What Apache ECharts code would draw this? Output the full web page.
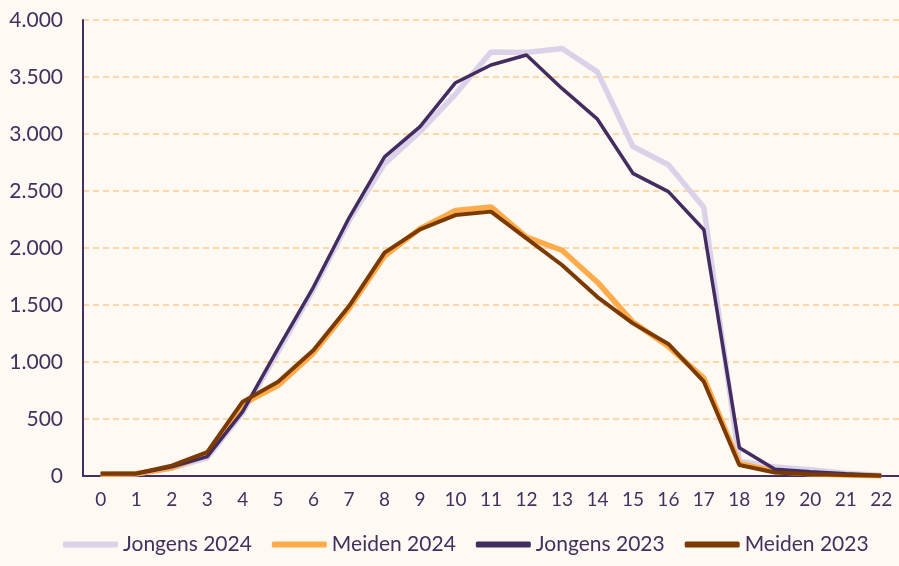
<!DOCTYPE html>
<html>
<head>
<meta charset="utf-8">
<script src="https://cdn.jsdelivr.net/npm/echarts@6/dist/echarts.min.js"></script>
<style>
  html, body { margin: 0; padding: 0; background: #fef9f3; }
  #containerg { width: 899px; height: 566px; }
</style>
</head>
<body>
<div id="containerg"></div>
<script>
var leeftijden = ['0', '1', '2', '3', '4', '5', '6', '7', '8', '9', '10', '11', '12', '13', '14', '15', '16', '17', '18', '19', '20', '21', '22'];

var jongens2024 = [15, 20, 70, 160, 555, 1090, 1640, 2240, 2740, 3020, 3350, 3720, 3715, 3750, 3545, 2890, 2730, 2355, 130, 80, 55, 25, 5];
var meiden2024 = [15, 20, 70, 190, 630, 795, 1080, 1470, 1930, 2170, 2330, 2360, 2095, 1980, 1700, 1350, 1135, 860, 110, 40, 20, 8, 3];
var jongens2023 = [20, 20, 80, 170, 565, 1120, 1660, 2265, 2800, 3065, 3450, 3605, 3693, 3400, 3130, 2655, 2495, 2160, 248, 60, 38, 20, 5];
var meiden2023 = [23, 23, 91, 210, 652, 827, 1105, 1491, 1959, 2164, 2289, 2319, 2085, 1851, 1570, 1339, 1158, 827, 96, 30, 15, 8, 3];

var tekstKleur = '#43305e';

$ = null;
grafiek();

function grafiek() {
    var dom = document.getElementById("containerg");
    var myChart = echarts.init(dom);

    function lijn(naam, data, kleur, breedte) {
        return {
            name: naam,
            type: 'line',
            data: data,
            showSymbol: false,
            symbol: 'none',
            animation: false,
            lineStyle: { color: kleur, width: breedte },
            itemStyle: { color: kleur }
        };
    }

    var option = {
        backgroundColor: '#fef9f3',
        textStyle: { fontFamily: 'Lato', color: tekstKleur },
        grid: { left: 83, right: 0, top: 20, bottom: 90 },
        legend: {
            left: 58,
            bottom: 6,
            icon: 'roundRect',
            itemWidth: 55,
            itemHeight: 6,
            itemGap: 20,
            textStyle: { fontFamily: 'Lato', fontSize: 21, color: tekstKleur },
            data: ['Jongens 2024', 'Meiden 2024', 'Jongens 2023', 'Meiden 2023']
        },
        xAxis: {
            type: 'category',
            data: leeftijden,
            boundaryGap: true,
            axisLine: { lineStyle: { color: tekstKleur, width: 2 } },
            axisTick: { show: false },
            axisLabel: { fontFamily: 'Lato', fontSize: 19, color: tekstKleur, margin: 14 }
        },
        yAxis: {
            type: 'value',
            min: 0,
            max: 4000,
            interval: 500,
            axisLine: { show: true, lineStyle: { color: tekstKleur, width: 2 } },
            axisTick: { show: false },
            splitLine: { lineStyle: { color: '#ffcb8f', type: [6, 4], width: 1.5 } },
            axisLabel: {
                fontFamily: 'Lato',
                fontSize: 21,
                color: tekstKleur,
                margin: 20,
                formatter: function (v) { return v.toLocaleString('de-DE'); }
            }
        },
        series: [
            lijn('Jongens 2024', jongens2024, '#dad2e8', 5.5),
            lijn('Meiden 2024', meiden2024, '#ffab4a', 5.5),
            lijn('Jongens 2023', jongens2023, '#432c60', 3.5),
            lijn('Meiden 2023', meiden2023, '#7c3a03', 4)
        ]
    };

    if (option && typeof option === 'object') {
        myChart.setOption(option);
    }
}
</script>
</body>
</html>
